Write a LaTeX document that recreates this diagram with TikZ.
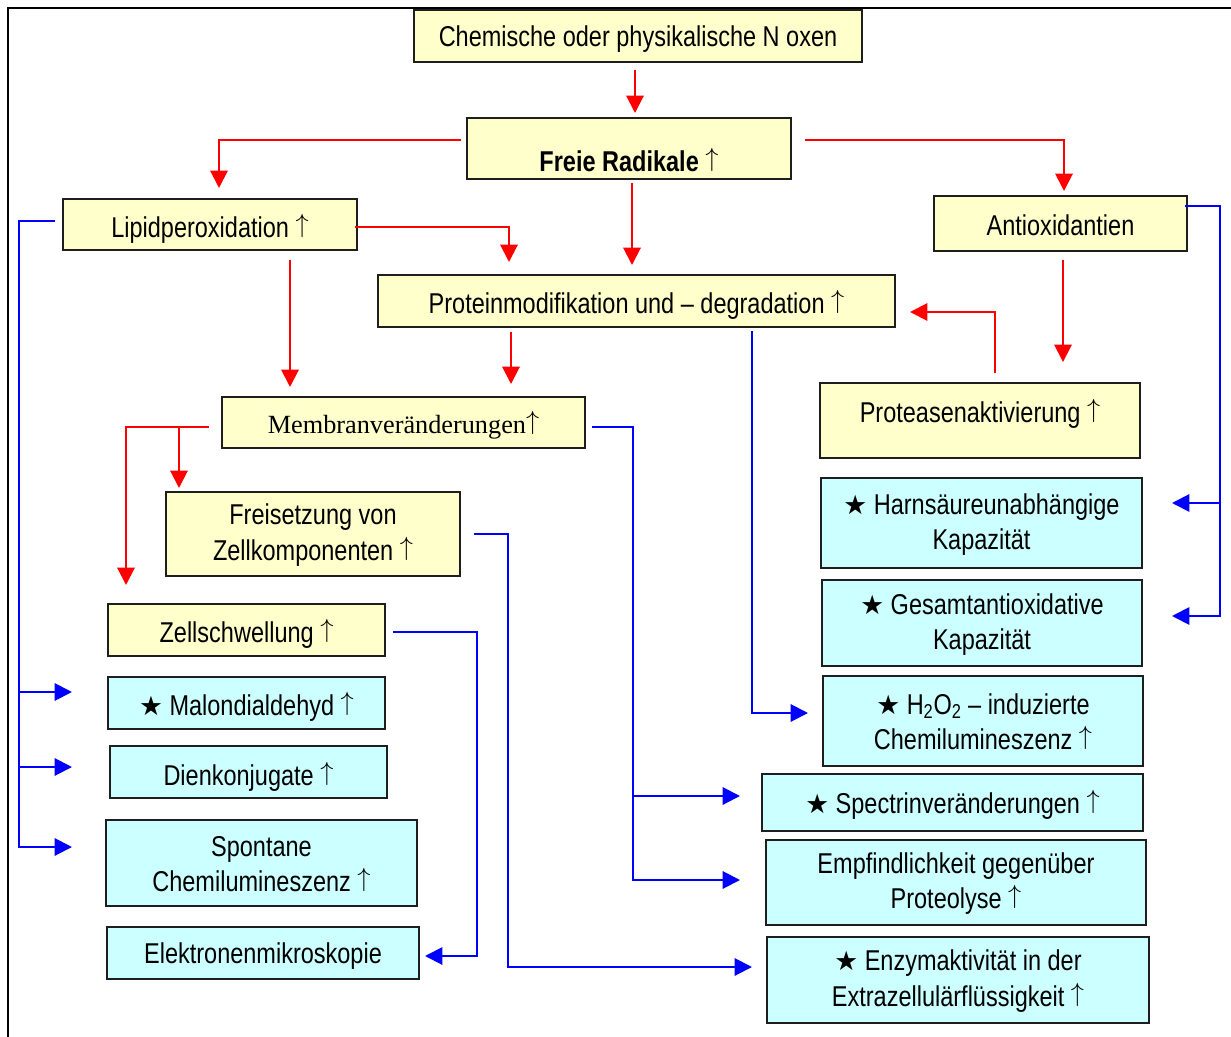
\documentclass[tikz,border=0pt]{standalone}
\usepackage{fontspec}
\setmainfont{Liberation Sans}[FakeStretch=0.82]
\newfontfamily\serifm{Liberation Serif}
\newfontfamily\dejavu{DejaVu Sans}
\usetikzlibrary{arrows.meta,calc}
\newcommand\st{{\dejavu\fontsize{20}{20}\selectfont ★}}
\newcommand\up{\raisebox{0.17em}{\scalebox{0.95}{$\uparrow$}}}
\definecolor{yfill}{RGB}{255,255,204}
\definecolor{cfill}{RGB}{204,255,255}
\definecolor{bord}{RGB}{30,30,30}
\definecolor{rline}{RGB}{255,0,0}
\definecolor{bline}{RGB}{0,0,255}
% name, x1, y1, x2, y2, style, text y-offset, text
\newcommand\mybox[8]{%
  \node[#6, minimum width={(#4-#2)*0.75pt}, minimum height={(#5-#3)*0.75pt}] (#1) at ({(#2+#4)/2},{(#3+#5)/2}) {};
  \node[txt] (#1-t) at ($(#1.center)+(0,#7)$) {#8};}
\begin{document}
\begin{tikzpicture}[x=0.75pt,y=-0.75pt,
  ybox/.style={draw=bord, line width=1.3pt, fill=yfill, inner sep=0pt, outer sep=0pt},
  cbox/.style={draw=bord, line width=1.3pt, fill=cfill, inner sep=0pt, outer sep=0pt},
  txt/.style={inner sep=0pt, align=center, font=\fontsize{21.5}{26.5}\selectfont},
  ra/.style={draw=rline, line width=1.5pt, -{Triangle[length=13pt,width=13pt]}},
  ba/.style={draw=bline, line width=1.5pt, -{Triangle[length=13pt,width=13pt]}}]
\useasboundingbox (0,0) rectangle (1231,1037);
\fill[white] (0,0) rectangle (1231,1037);
\draw[line width=1.5pt] (8,1037) -- (8,8.5) -- (1231,8.5);

\mybox{nox}{414}{10}{862}{62}{ybox}{3}{Chemische oder physikalische N oxen}
\mybox{frei}{467}{118}{791}{179}{ybox}{11.5}{\textbf{Freie Radikale} \up}
\mybox{lipid}{63}{199}{357}{250}{ybox}{4.5}{Lipidperoxidation \up}
\mybox{anti}{934}{196}{1187}{251}{ybox}{2}{Antioxidantien}
\mybox{prot}{378}{275}{895}{327}{ybox}{4}{Proteinmodifikation und – degradation \up}
\mybox{membr}{222}{397}{585}{448}{ybox}{2.5}{{\serifm\fontsize{19.7}{24}\selectfont Membranveränderungen\up}}
\mybox{protease}{820}{383}{1140}{458}{ybox}{-7}{Proteasenaktivierung \up}
\mybox{freis}{166}{492}{460}{576}{ybox}{1}{Freisetzung von\\Zellkomponenten \up}
\mybox{zell}{108}{604}{385}{656}{ybox}{4}{Zellschwellung \up}
\mybox{harn}{821}{478}{1142}{568}{cbox}{1.5}{\st\ Harnsäureunabhängige\\Kapazität}
\mybox{gesamt}{822}{580}{1142}{666}{cbox}{1.5}{\st\ Gesamtantioxidative\\Kapazität}
\mybox{malon}{108}{677}{385}{729}{cbox}{4}{\st\ Malondialdehyd \up}
\mybox{hoo}{823}{676}{1143}{766}{cbox}{0.5}{\st\ H\textsubscript{2}O\textsubscript{2} – induzierte\\Chemilumineszenz \up}
\mybox{dien}{110}{746}{387}{798}{cbox}{4.5}{Dienkonjugate \up}
\mybox{spec}{762}{774}{1143}{831}{cbox}{2}{\st\ Spectrinveränderungen \up}
\mybox{spont}{106}{820}{417}{906}{cbox}{1}{Spontane\\Chemilumineszenz \up}
\mybox{empf}{766}{840}{1146}{925}{cbox}{1}{Empfindlichkeit gegenüber\\Proteolyse \up}
\mybox{elek}{107}{927}{419}{979}{cbox}{3}{Elektronenmikroskopie}
\mybox{enzym}{767}{937}{1149}{1023}{cbox}{1}{\st\ Enzymaktivität in der\\Extrazellulärflüssigkeit \up}

% red connectors
\draw[ra] ($(nox.south)+(-3,8)$) -- ($(frei.north)+(6,-5)$);
\draw[ra] ($(frei.west)+(-6,-8.5)$) -| ($(lipid.north)+(9,-11)$);
\draw[ra] ($(frei.east)+(14,-8.5)$) -| ($(anti.north)+(3.5,-5)$);
\draw[ra] ($(frei.south)+(3,4)$) -- ($(prot.north)+(-4.5,-10)$);
\draw[ra] ($(lipid.east)+(-2,2.5)$) -| ($(prot.north)+(-127.5,-13)$);
\draw[ra] ($(lipid.south)+(80,10)$) -- ($(membr.north)+(-113.5,-10)$);
\draw[ra] ($(prot.south)+(-125.5,5)$) -- ($(membr.north)+(107.5,-13)$);
\draw[ra] ($(anti.south)+(2.5,9)$) -- ($(protease.north)+(83,-21)$);
\draw[ra] ($(protease.north)+(15,-10)$) |- ($(prot.east)+(15,11)$);
\draw[ra] ($(membr.west)+(-13,4.5)$) -| ($(zell.north)+(-120.5,-19)$);
\draw[ra] ($(freis.north)+(-134,-65)$) -- ($(freis.north)+(-134,-4)$);

% blue connectors
\draw[ba] ($(lipid.west)+(-8,-3.5)$) -- ++(-36,0) |- ($(spont.west)+(-34,-16)$);
\draw[ba] ($(malon.west)+(-89,-11)$) -- ($(malon.west)+(-36,-11)$);
\draw[ba] ($(dien.west)+(-91,-5)$) -- ($(dien.west)+(-38,-5)$);
\draw[ba] ($(anti.east)+(-2,-17.5)$) -- ++(35,0) |- ($(gesamt.east)+(30,-7)$);
\draw[ba] ($(harn.east)+(78,-20)$) -- ($(harn.east)+(30,-20)$);
\draw[ba] ($(membr.east)+(7,4.5)$) -- ++(41,0) |- ($(empf.west)+(-26,-2.5)$);
\draw[ba] ($(spec.west)+(-129,-6.5)$) -- ($(spec.west)+(-22,-6.5)$);
\draw[ba] ($(prot.south)+(115.5,4)$) |- ($(hoo.west)+(-15,-8)$);
\draw[ba] ($(freis.east)+(14,0)$) -- ++(34,0) |- ($(enzym.west)+(-15,-13)$);
\draw[ba] ($(zell.east)+(8,2)$) -- ++(84,0) |- ($(elek.east)+(6,3)$);
\end{tikzpicture}
\end{document}
